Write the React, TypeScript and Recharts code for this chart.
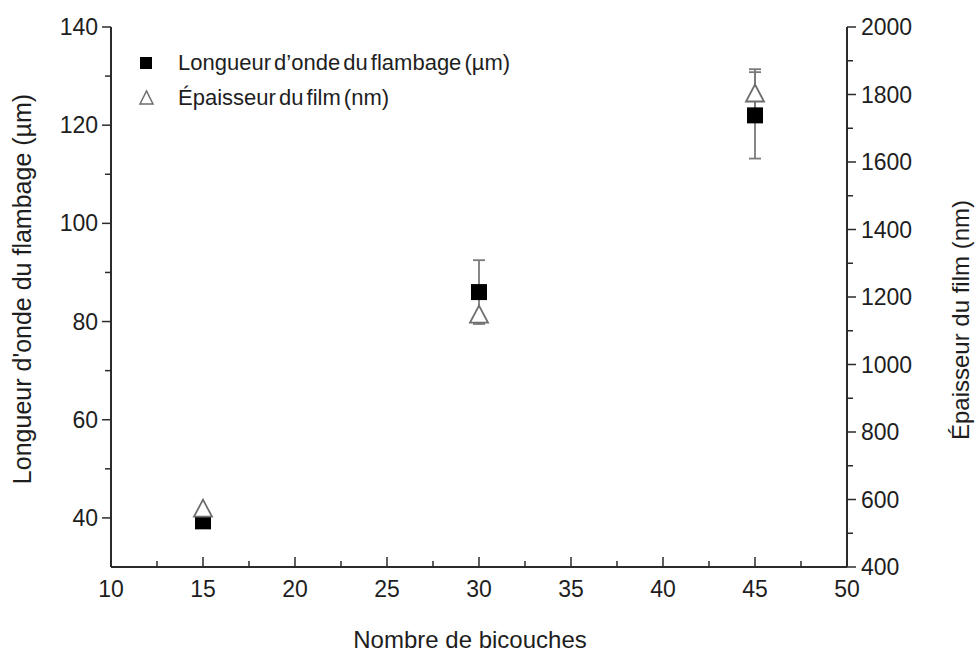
import {
  ComposedChart,
  ErrorBar,
  Scatter,
  XAxis,
  YAxis,
} from "recharts";

// nombre de bicouches
const layers = [15, 30, 45];
// longueur d'onde du flambage (µm) + erreur
const wavelength = [39.3, 86, 122];
const wavelengthErr = [0, 6.5, 8.8];
// épaisseur du film (nm) + erreur
const thickness = [570, 1145, 1800];
const thicknessErr = [0, 0, 75];

const xTicks = [10, 12.5, 15, 17.5, 20, 22.5, 25, 27.5, 30, 32.5, 35, 37.5, 40, 42.5, 45, 47.5, 50];
const leftTicks = [40, 50, 60, 70, 80, 90, 100, 110, 120, 130, 140];
const rightTicks = [400, 500, 600, 700, 800, 900, 1000, 1100, 1200, 1300, 1400, 1500, 1600, 1700, 1800, 1900, 2000];

const waveData = layers.map((x, i) => ({ x, y: wavelength[i], err: wavelengthErr[i] }));
const filmData = layers.map((x, i) => ({ x, y: thickness[i], err: thicknessErr[i] }));

const FONT = "'Liberation Sans', Arial, sans-serif";
const AXIS = "#2b2b2b";
const TEXT = "#1e1e1e";

const BottomTick = (props: any) => {
  const { x, y, payload } = props;
  const major = payload.value % 5 === 0;
  return (
    <g>
      <line x1={x} x2={x} y1={y} y2={y - (major ? 10 : 6)} stroke={AXIS} strokeWidth={1.5} />
      {major && (
        <text x={x} y={y + 30} textAnchor="middle" fontSize={23} fill={TEXT} fontFamily={FONT}>
          {payload.value}
        </text>
      )}
    </g>
  );
};

const TopTick = (props: any) => {
  const { x, y, payload } = props;
  const major = payload.value % 5 === 0;
  return <line x1={x} x2={x} y1={y} y2={y + (major ? 10 : 6)} stroke={AXIS} strokeWidth={1.5} />;
};

const LeftTick = (props: any) => {
  const { x, y, payload } = props;
  const major = payload.value % 20 === 0;
  return (
    <g>
      <line x1={x} x2={x - (major ? 9 : 6)} y1={y} y2={y} stroke={AXIS} strokeWidth={1.5} />
      {major && (
        <text x={x - 13} y={y + 8} textAnchor="end" fontSize={23} fill={TEXT} fontFamily={FONT}>
          {payload.value}
        </text>
      )}
    </g>
  );
};

const RightTick = (props: any) => {
  const { x, y, payload } = props;
  const major = payload.value % 200 === 0;
  return (
    <g>
      <line x1={x} x2={x + (major ? 9 : 6)} y1={y} y2={y} stroke={AXIS} strokeWidth={1.5} />
      {major && (
        <text x={x + 14} y={y + 8} textAnchor="start" fontSize={23} fill={TEXT} fontFamily={FONT}>
          {payload.value}
        </text>
      )}
    </g>
  );
};

const XLabel = (props: any) => {
  const { x, y, width } = props.viewBox;
  return (
    <text x={x + width / 2 - 9} y={y + 81} textAnchor="middle" fontSize={24} fill={TEXT} fontFamily={FONT}>
      Nombre de bicouches
    </text>
  );
};

const LeftLabel = (props: any) => {
  const { x, y, height } = props.viewBox;
  const cx = x + 31;
  const cy = y + height / 2 - 8;
  return (
    <text
      x={cx}
      y={cy}
      transform={`rotate(-90, ${cx}, ${cy})`}
      textAnchor="middle"
      fontSize={25}
      fill={TEXT}
      fontFamily={FONT}
    >
      Longueur d'onde du flambage (µm)
    </text>
  );
};

const RightLabel = (props: any) => {
  const { x, y, height } = props.viewBox;
  const cx = x + 122;
  const cy = y + height / 2 + 23;
  return (
    <text
      x={cx}
      y={cy}
      transform={`rotate(-90, ${cx}, ${cy})`}
      textAnchor="middle"
      fontSize={24}
      fill={TEXT}
      fontFamily={FONT}
    >
      Épaisseur du film (nm)
    </text>
  );
};

const SquareDot = (props: any) => {
  const { cx, cy } = props;
  return <rect x={cx - 8} y={cy - 8} width={16} height={16} fill="#000" />;
};

const TriangleDot = (props: any) => {
  const { cx, cy } = props;
  return (
    <polygon
      points={`${cx},${cy - 10} ${cx - 9},${cy + 7} ${cx + 9},${cy + 7}`}
      fill="#fff"
      stroke="#6e6e6e"
      strokeWidth={1.8}
    />
  );
};

const LegendBox = () => (
  <div
    style={{
      position: "absolute",
      left: 136,
      top: 45,
      fontFamily: FONT,
      fontSize: 22,
      color: TEXT,
      lineHeight: "35px",
      wordSpacing: -3,
      whiteSpace: "nowrap",
    }}
  >
    <div style={{ display: "flex", alignItems: "center" }}>
      <svg width={42} height={20}>
        <rect x={4} y={4} width={12} height={12} fill="#000" />
      </svg>
      <span>Longueur d’onde du flambage (µm)</span>
    </div>
    <div style={{ display: "flex", alignItems: "center" }}>
      <svg width={42} height={20}>
        <polygon points="10.5,3 4,16 17,16" fill="#fff" stroke="#6e6e6e" strokeWidth={1.5} />
      </svg>
      <span>Épaisseur du film (nm)</span>
    </div>
  </div>
);

export default function App() {
  return (
    <div style={{ position: "absolute", left: 0, top: 0, width: 975, height: 652, background: "#fff" }}>
      <ComposedChart width={975} height={652} margin={{ top: 27, right: 0, bottom: 0, left: 0 }}>
        <XAxis
          dataKey="x"
          type="number"
          domain={[10, 50]}
          ticks={xTicks}
          interval={0}
          height={85}
          tickSize={0}
          tickMargin={0}
          tick={<BottomTick />}
          axisLine={{ stroke: AXIS, strokeWidth: 2 }}
          tickLine={false}
          label={<XLabel />}
        />
        <XAxis
          xAxisId="top"
          dataKey="x"
          type="number"
          orientation="top"
          domain={[10, 50]}
          ticks={xTicks}
          interval={0}
          height={0}
          tickSize={0}
          tickMargin={0}
          tick={<TopTick />}
          axisLine={{ stroke: AXIS, strokeWidth: 2 }}
          tickLine={false}
        />
        <YAxis
          yAxisId="left"
          type="number"
          domain={[30, 140]}
          ticks={leftTicks}
          interval={0}
          width={111}
          tickSize={0}
          tickMargin={0}
          tick={<LeftTick />}
          axisLine={{ stroke: AXIS, strokeWidth: 2 }}
          tickLine={false}
          label={<LeftLabel />}
        />
        <YAxis
          yAxisId="right"
          orientation="right"
          type="number"
          domain={[400, 2000]}
          ticks={rightTicks}
          interval={0}
          width={128}
          tickSize={0}
          tickMargin={0}
          tick={<RightTick />}
          axisLine={{ stroke: AXIS, strokeWidth: 2 }}
          tickLine={false}
          label={<RightLabel />}
        />
        <Scatter
          name="Longueur d’onde du flambage (µm)"
          data={waveData}
          dataKey="y"
          yAxisId="left"
          shape={<SquareDot />}
          isAnimationActive={false}
        >
          <ErrorBar dataKey="err" direction="y" width={6} stroke="#7a7a7a" strokeWidth={1.8} />
        </Scatter>
        <Scatter
          name="Épaisseur du film (nm)"
          data={filmData}
          dataKey="y"
          yAxisId="right"
          shape={<TriangleDot />}
          isAnimationActive={false}
        >
          <ErrorBar dataKey="err" direction="y" width={6} stroke="#7a7a7a" strokeWidth={1.8} />
        </Scatter>
      </ComposedChart>
      <LegendBox />
    </div>
  );
}
